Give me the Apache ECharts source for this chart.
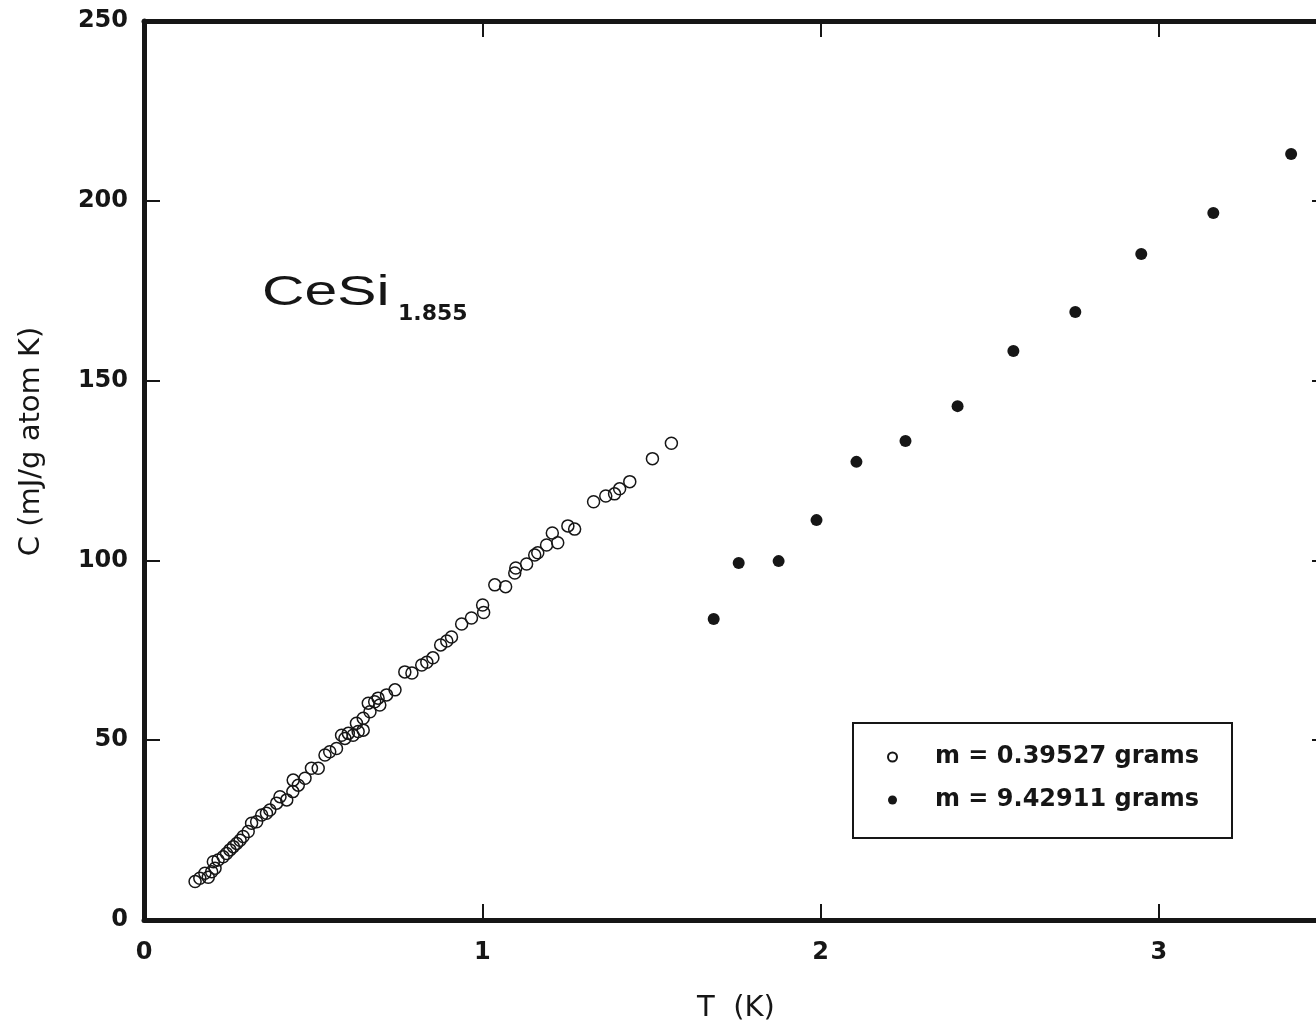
<!DOCTYPE html>
<html><head><meta charset="utf-8">
<script src="https://cdn.jsdelivr.net/npm/echarts@6/dist/echarts.min.js"></script>
<style>html,body{margin:0;padding:0;background:#fff}#c{width:1316px;height:1027px}</style>
</head><body><div id="c"></div>
<script>
// ---- data ----
const openName = 'm = 0.39527 grams';
const filledName = 'm = 9.42911 grams';
const openT = [0.151,0.165,0.180,0.190,0.200,0.210,0.205,0.219,0.234,0.244,0.254,0.264,0.274,0.284,0.293,0.308,0.318,0.333,0.348,0.362,0.372,0.392,0.402,0.422,0.440,0.441,0.456,0.476,0.495,0.515,0.535,0.549,0.569,0.584,0.594,0.604,0.618,0.633,0.648,0.628,0.648,0.668,0.663,0.682,0.697,0.692,0.717,0.742,0.771,0.792,0.821,0.836,0.854,0.877,0.895,0.909,0.939,0.968,1.001,1.004,1.037,1.069,1.096,1.099,1.131,1.155,1.164,1.190,1.207,1.223,1.253,1.273,1.329,1.365,1.391,1.406,1.436,1.503,1.559];
const openC = [10.7,11.6,13.0,11.9,13.4,14.4,16.2,16.7,17.6,18.5,19.5,20.4,21.3,22.2,23.2,24.6,26.9,27.3,29.2,29.7,30.6,32.5,34.3,33.4,35.7,38.9,37.5,39.4,42.2,42.2,45.9,46.8,47.7,51.4,50.5,51.9,51.4,52.4,52.8,54.7,56.1,57.9,60.3,60.7,59.8,61.7,62.6,64.0,69.0,68.7,70.9,71.7,72.9,76.5,77.6,78.7,82.3,84.0,87.6,85.5,93.2,92.7,96.5,97.9,99.0,101.5,102.1,104.3,107.6,104.9,109.6,108.7,116.3,117.9,118.5,119.9,121.9,128.3,132.6];
const filledT = [1.684,1.758,1.876,1.988,2.106,2.251,2.405,2.570,2.753,2.948,3.161,3.391];
const filledC = [83.7,99.3,99.8,111.2,127.4,133.2,142.9,158.2,169.1,185.2,196.6,213.0];
const xTicks = [0,1,2,3];
const yTicks = [0,50,100,150,200,250];
const xMax = 3.5;

// ---- chart ----
const INK = '#161616';
const chart = echarts.init(document.getElementById('c'), null, {renderer:'canvas'});
const lineW = 5;
function xAx(pos, labels){
  return {
    type:'value', position:pos, min:xTicks[0], max:xMax, interval:xTicks[1]-xTicks[0],
    axisLine:{show:true, onZero:false, lineStyle:{color:INK, width:lineW}},
    axisTick:{show:true, inside:true, length:16, lineStyle:{color:INK, width:2}},
    axisLabel:{show:labels, margin:21, showMaxLabel:false, color:INK,
      fontFamily:'DejaVu Sans', fontWeight:'bold', fontSize:24},
    splitLine:{show:false}
  };
}
function yAx(pos, labels){
  return {
    type:'value', position:pos, min:yTicks[0], max:yTicks[yTicks.length-1], interval:yTicks[1]-yTicks[0],
    axisLine:{show:true, onZero:false, lineStyle:{color:INK, width:lineW}},
    axisTick:{show:true, inside:true, length:16, lineStyle:{color:INK, width:2}},
    axisLabel:{show:labels, margin:16, color:INK,
      fontFamily:'DejaVu Sans', fontWeight:'bold', fontSize:24},
    splitLine:{show:false}
  };
}
const xb = xAx('bottom', true);
xb.name = 'T  (K)'; xb.nameLocation = 'middle'; xb.nameGap = 74;
xb.nameTextStyle = {fontFamily:'DejaVu Sans', fontSize:29, color:INK};
const yl = yAx('left', true);
yl.name = 'C (mJ/g atom K)'; yl.nameLocation = 'middle'; yl.nameGap = 98;
yl.nameTextStyle = {fontFamily:'DejaVu Sans', fontSize:29, color:INK, padding:[0,0,0,58]};

const option = {
  backgroundColor:'#ffffff',
  animation:false,
  grid:{left:144, top:21, width:1184, height:899, show:false, containLabel:false, outerBoundsMode:'none'},
  xAxis:[xb, xAx('top', false)],
  yAxis:[yl, yAx('right', false)],
  legend:{
    orient:'vertical', left:887, top:744, padding:0,
    itemGap:17, itemWidth:9, itemHeight:9,
    textStyle:{fontFamily:'DejaVu Sans', fontWeight:'bold', fontSize:24, color:INK, lineHeight:26, padding:[0,0,0,33]},
    data:[openName, filledName]
  },
  series:[
    {type:'scatter', name:openName, xAxisIndex:0, yAxisIndex:0, symbol:'circle', symbolSize:12,
     itemStyle:{color:'rgba(0,0,0,0)', borderColor:INK, borderWidth:1.5, opacity:1},
     data: openT.map((t,i)=>[t, openC[i]])},
    {type:'scatter', name:filledName, xAxisIndex:0, yAxisIndex:0, symbol:'circle', symbolSize:12,
     itemStyle:{color:INK, opacity:1},
     data: filledT.map((t,i)=>[t, filledC[i]])}
  ],
  graphic:[
    {type:'rect', shape:{x:853, y:723, width:379, height:115}, style:{fill:'none', stroke:INK, lineWidth:2}, z:10},
    {type:'text', x:262, y:293, scaleX:1.4, style:{text:'CeSi', font:'42px "Liberation Sans"', fill:INK, align:'left', verticalAlign:'middle'}},
    {type:'text', x:398, y:314, style:{text:'1.855', font:'bold 22px "DejaVu Sans"', fill:INK, align:'left', verticalAlign:'middle'}}
  ]
};
chart.setOption(option);
</script></body></html>
